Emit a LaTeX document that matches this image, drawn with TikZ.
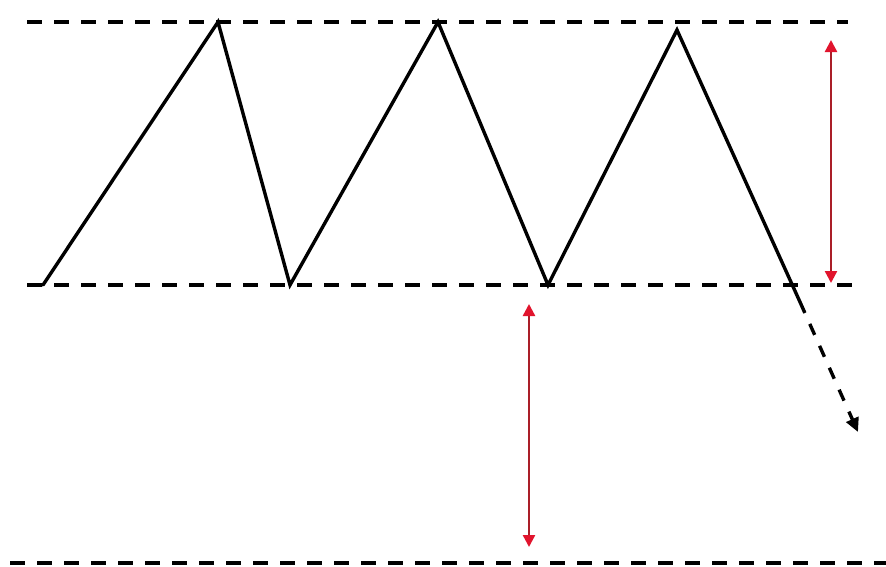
\documentclass[tikz,border=0pt]{standalone}
\usetikzlibrary{arrows.meta}
\definecolor{redline}{RGB}{170,30,40}
\definecolor{redhead}{RGB}{225,20,45}
\begin{document}
\begin{tikzpicture}[x=1pt,y=-1pt,
  guide/.style={line width=3.6pt, dash pattern=on 15pt off 12pt},
  zig/.style={line width=3.4pt, line join=miter, line cap=round},
  redarrow/.style={line width=2.4pt, draw=redline,
    {Triangle[length=12pt,width=12pt,fill=redhead,color=redhead]}-{Triangle[length=12pt,width=12pt,fill=redhead,color=redhead]}}]
\useasboundingbox (0,0) rectangle (886,566);
\fill[white] (0,0) rectangle (886,566);
% guide lines
\coordinate (t1) at (27,22);  \coordinate (t2) at (848,22);
\coordinate (m1) at (27,285); \coordinate (m2) at (853,285);
\coordinate (b1) at (10,563); \coordinate (b2) at (892,563);
\draw[guide] (t1) -- (t2);
\draw[guide] (m1) -- (m2);
\draw[guide] (b1) -- (b2);
% zigzag
\coordinate (z0) at (43,285);
\coordinate (p1) at (218,22);
\coordinate (v1) at (290,285);
\coordinate (p2) at (438,22);
\coordinate (v2) at (548,285);
\coordinate (p3) at (677,30);
\coordinate (s1) at (800,302);
\coordinate (e1) at (858,432);
\draw[zig] (z0) -- (p1) -- (v1) -- (p2) -- (v2) -- (p3) -- (s1);
\draw[line width=3.4pt, dash pattern=on 12pt off 12pt, -{Triangle[length=14pt,width=13pt]}] (s1) -- (e1);
% red arrows
\coordinate (r1a) at (831,40);  \coordinate (r1b) at (831,283);
\coordinate (r2a) at (529,304); \coordinate (r2b) at (529,547);
\draw[redarrow] (r1a) -- (r1b);
\draw[redarrow] (r2a) -- (r2b);
\end{tikzpicture}
\end{document}
